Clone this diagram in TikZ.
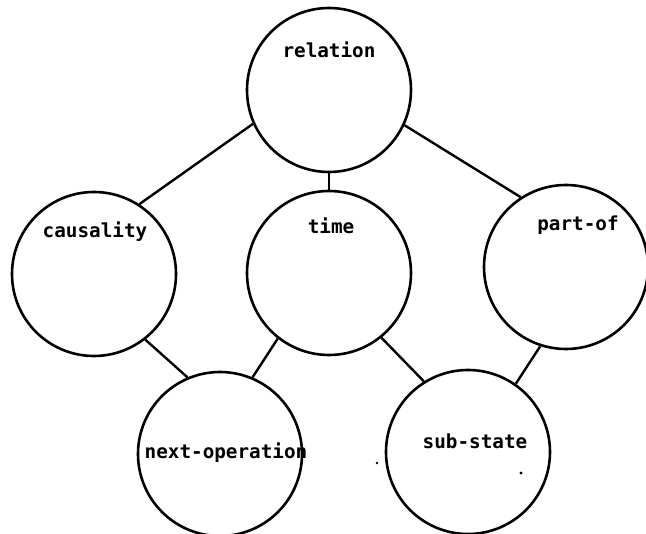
\documentclass[tikz,border=0pt]{standalone}
\usepackage{fontspec}
\setmonofont{DejaVu Sans Mono}
\begin{document}
\begin{tikzpicture}[x=1pt,y=-1pt,
  ball/.style={draw,circle,line width=2.6pt,minimum size=164pt,inner sep=0pt},
  lbl/.style={font=\ttfamily\bfseries\fontsize{19.3pt}{21pt}\selectfont,anchor=mid,inner sep=0pt},
  link/.style={line width=2.4pt}]
\useasboundingbox (0,0) rectangle (646,534);
\fill[white] (0,0) rectangle (646,534);
\node[ball] (relation) at (329,90) {};
\node[ball] (causality) at (94,274) {};
\node[ball] (time) at (329,273) {};
\node[ball] (partof) at (566,267) {};
\node[ball] (nextop) at (220,454) {};
\node[ball] (substate) at (468,452) {};
\node[lbl] (trel) at (329,55) {relation};
\node[lbl] (tcau) at (95,235) {causality};
\node[lbl] (ttim) at (331,231) {time};
\node[lbl] (tpar) at (578,228) {part-of};
\node[lbl] (tnex) at (226,456) {next-operation};
\node[lbl] (tsub) at (475,446) {sub-state};
\draw[link] (relation.204.7) -- (causality.57);
\draw[link] (relation.south) -- (time.north);
\draw[link] (relation.335) -- (partof.123);
\draw[link] (causality.308.6) -- (nextop.113);
\draw[link] (time.232.8) -- (nextop.67.9);
\draw[link] (time.309.8) -- (substate.122);
\draw[link] (partof.252.9) -- (substate.55.7);
\fill (377,463) circle (1.3pt);
\fill (521,473) circle (1.6pt);
\end{tikzpicture}
\end{document}
